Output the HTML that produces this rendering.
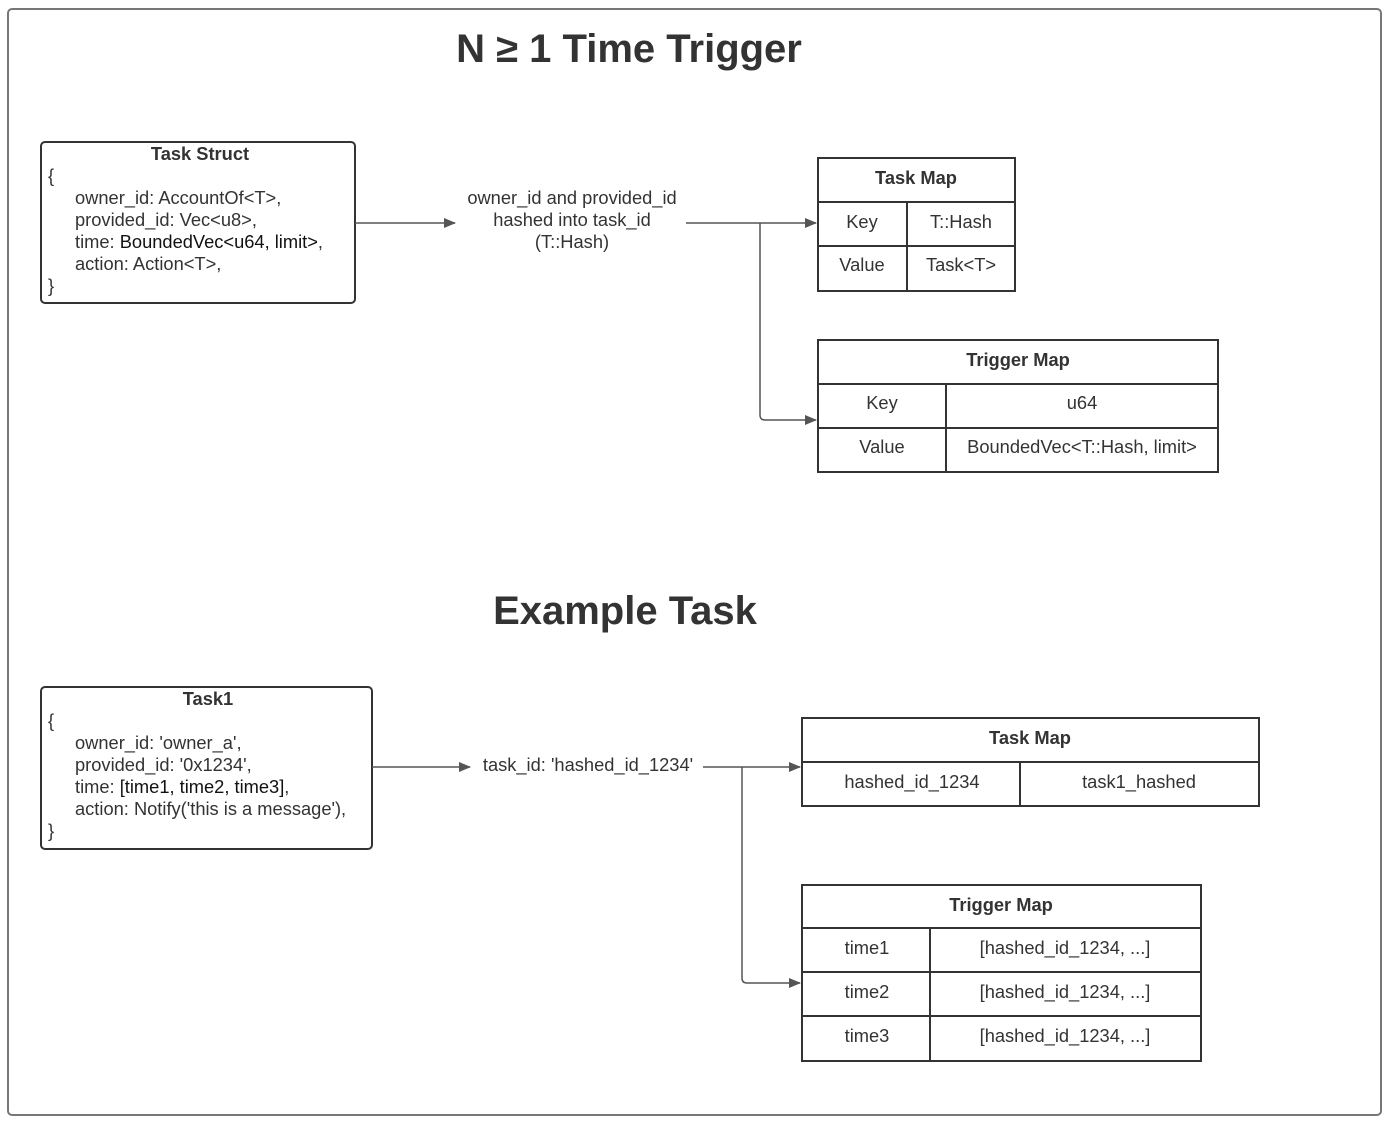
<!DOCTYPE html>
<html><head><meta charset="utf-8"><style>
html,body{margin:0;padding:0;background:#fff}
svg{display:block}
text{font-family:"Liberation Sans",sans-serif;fill:#333}
.b{font-weight:bold}
</style></head><body>
<svg width="1394" height="1128" viewBox="0 0 1394 1128">
<defs><marker id="a" markerWidth="12" markerHeight="10" refX="11" refY="5" orient="auto" markerUnits="userSpaceOnUse"><path d="M0,0 L12,5 L0,10 z" fill="#555"/></marker></defs>
<rect x="8" y="9" width="1373" height="1106" rx="4" fill="#fff" stroke="#777" stroke-width="2"/>
<text x="629" y="62" font-size="40" class="b" text-anchor="middle">N ≥ 1 Time Trigger</text>
<text x="625" y="624" font-size="40" class="b" text-anchor="middle">Example Task</text>

<g stroke="#333" stroke-width="2" fill="none">
<rect x="41" y="142" width="314" height="161" rx="4"/>
<rect x="41" y="687" width="331" height="162" rx="4"/>
<rect x="818" y="158" width="197" height="133"/><line x1="818" y1="202" x2="1015" y2="202"/><line x1="818" y1="246" x2="1015" y2="246"/><line x1="907" y1="202" x2="907" y2="291"/>
<rect x="818" y="340" width="400" height="132"/><line x1="818" y1="384" x2="1218" y2="384"/><line x1="818" y1="428" x2="1218" y2="428"/><line x1="946" y1="384" x2="946" y2="472"/>
<rect x="802" y="718" width="457" height="88"/><line x1="802" y1="762" x2="1259" y2="762"/><line x1="1020" y1="762" x2="1020" y2="806"/>
<rect x="802" y="885" width="399" height="176"/><line x1="802" y1="928" x2="1201" y2="928"/><line x1="802" y1="972" x2="1201" y2="972"/><line x1="802" y1="1016" x2="1201" y2="1016"/><line x1="930" y1="928" x2="930" y2="1061"/>
</g>
<g stroke="#555" stroke-width="1.5" fill="none">
<line x1="355" y1="223" x2="455" y2="223" marker-end="url(#a)"/>
<line x1="686" y1="223" x2="816" y2="223" marker-end="url(#a)"/>
<path d="M760,223 V415 Q760,420 765,420 H816" marker-end="url(#a)"/>
<line x1="372" y1="767" x2="470" y2="767" marker-end="url(#a)"/>
<line x1="703" y1="767" x2="800" y2="767" marker-end="url(#a)"/>
<path d="M742,767 V978 Q742,983 747,983 H800" marker-end="url(#a)"/>
</g>

<g font-size="18.3">
<text x="200" y="160" class="b" text-anchor="middle">Task Struct</text>
<text x="48" y="182">{</text>
<text x="75" y="204">owner_id: AccountOf&lt;T&gt;,</text>
<text x="75" y="226">provided_id: Vec&lt;u8&gt;,</text>
<text x="75" y="248">time: <tspan style="fill:#111">BoundedVec&lt;u64, limit&gt;</tspan>,</text>
<text x="75" y="270">action: Action&lt;T&gt;,</text>
<text x="48" y="292">}</text>

<text x="572" y="204" text-anchor="middle">owner_id and provided_id</text>
<text x="572" y="226" text-anchor="middle">hashed into task_id</text>
<text x="572" y="248" text-anchor="middle">(T::Hash)</text>

<text x="916" y="184" class="b" text-anchor="middle">Task Map</text>
<text x="862" y="228" text-anchor="middle">Key</text>
<text x="961" y="228" text-anchor="middle">T::Hash</text>
<text x="862" y="271" text-anchor="middle">Value</text>
<text x="961" y="271" text-anchor="middle">Task&lt;T&gt;</text>

<text x="1018" y="366" class="b" text-anchor="middle">Trigger Map</text>
<text x="882" y="409" text-anchor="middle">Key</text>
<text x="1082" y="409" text-anchor="middle">u64</text>
<text x="882" y="453" text-anchor="middle">Value</text>
<text x="1082" y="453" text-anchor="middle">BoundedVec&lt;T::Hash, limit&gt;</text>

<text x="208" y="705" class="b" text-anchor="middle">Task1</text>
<text x="48" y="727">{</text>
<text x="75" y="749">owner_id: 'owner_a',</text>
<text x="75" y="771">provided_id: '0x1234',</text>
<text x="75" y="793">time: <tspan style="fill:#111">[time1, time2, time3]</tspan>,</text>
<text x="75" y="815">action: Notify('this is a message'),</text>
<text x="48" y="837">}</text>

<text x="588" y="771" text-anchor="middle">task_id: 'hashed_id_1234'</text>

<text x="1030" y="744" class="b" text-anchor="middle">Task Map</text>
<text x="912" y="788" text-anchor="middle">hashed_id_1234</text>
<text x="1139" y="788" text-anchor="middle">task1_hashed</text>

<text x="1001" y="911" class="b" text-anchor="middle">Trigger Map</text>
<text x="867" y="954" text-anchor="middle">time1</text>
<text x="1065" y="954" text-anchor="middle">[hashed_id_1234, ...]</text>
<text x="867" y="998" text-anchor="middle">time2</text>
<text x="1065" y="998" text-anchor="middle">[hashed_id_1234, ...]</text>
<text x="867" y="1042" text-anchor="middle">time3</text>
<text x="1065" y="1042" text-anchor="middle">[hashed_id_1234, ...]</text>
</g>
</svg>
</body></html>
